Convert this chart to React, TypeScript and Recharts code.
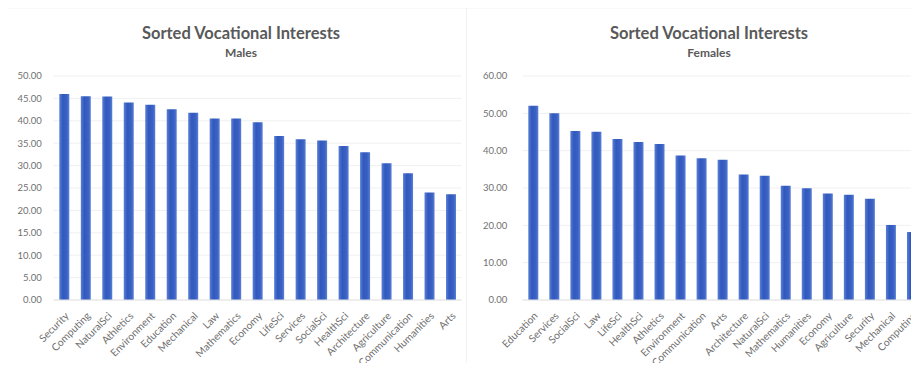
import React from "react";
import { BarChart, Bar, XAxis, YAxis, CartesianGrid } from "recharts";

const maleCategories = ["Security", "Computing", "NaturalSci", "Athletics", "Environment", "Education", "Mechanical", "Law", "Mathematics", "Economy", "LifeSci", "Services", "SocialSci", "HealthSci", "Architecture", "Agriculture", "Communication", "Humanities", "Arts"];
const maleValues = [46.0, 45.5, 45.4, 44.1, 43.6, 42.6, 41.8, 40.5, 40.5, 39.7, 36.6, 35.9, 35.6, 34.4, 33.0, 30.5, 28.3, 24.0, 23.6];
const maleTicks = [0, 5, 10, 15, 20, 25, 30, 35, 40, 45, 50];

const femaleCategories = ["Education", "Services", "SocialSci", "Law", "LifeSci", "HealthSci", "Athletics", "Environment", "Communication", "Arts", "Architecture", "NaturalSci", "Mathematics", "Humanities", "Economy", "Agriculture", "Security", "Mechanical", "Computing"];
const femaleValues = [52.0, 50.0, 45.3, 45.1, 43.1, 42.3, 41.8, 38.7, 38.0, 37.6, 33.6, 33.3, 30.6, 29.9, 28.5, 28.2, 27.1, 20.1, 18.2];
const femaleTicks = [0, 10, 20, 30, 40, 50, 60];

const mainTitle = "Sorted Vocational Interests";
const maleSubtitle = "Males";
const femaleSubtitle = "Females";

const maleData = maleCategories.map((c, i) => ({ name: c, value: maleValues[i] }));
const femaleData = femaleCategories.map((c, i) => ({ name: c, value: femaleValues[i] }));

const FONT = "Lato, 'Open Sans', sans-serif";
const TEXT = "#707070";

const XTick = (props: any) => {
  const { x, y, payload } = props;
  return (
    <g transform={`translate(${x + 3},${y + 6})`}>
      <text
        transform="rotate(-45)"
        textAnchor="end"
        dy="0.35em"
        fontSize={10.3}
        fontFamily={FONT}
        fill={TEXT}
      >
        {payload.value}
      </text>
    </g>
  );
};

const Grad = ({ id }: { id: string }) => (
  <defs>
    <linearGradient id={id} x1="0" y1="0" x2="1" y2="0">
      <stop offset="0%" stopColor="#5a80d6" />
      <stop offset="35%" stopColor="#3158bd" />
      <stop offset="75%" stopColor="#3a61c3" />
      <stop offset="100%" stopColor="#5a80d6" />
    </linearGradient>
  </defs>
);

const Panel = ({ left, width, rightMargin, data, ticks, max, sub, gid, yTickMargin, yWidth, titleCenter }: any) => (
  <div style={{ position: "absolute", left, top: 0, width, height: 371 }}>
    <div
      style={{
        position: "absolute",
        left: titleCenter - 235,
        width: 470,
        top: 23,
        lineHeight: "20px",
        textAlign: "center",
        fontFamily: FONT,
        fontWeight: 700,
        fontSize: 16.5,
        color: "#595959",
      }}
    >
      {mainTitle}
    </div>
    <div
      style={{
        position: "absolute",
        left: titleCenter - 235,
        width: 470,
        top: 45,
        lineHeight: "16px",
        textAlign: "center",
        fontFamily: FONT,
        fontWeight: 700,
        fontSize: 12,
        color: "#595959",
      }}
    >
      {sub}
    </div>
    <BarChart
      width={width}
      height={371}
      data={data}
      margin={{ top: 76, right: rightMargin, left: 0, bottom: 11 }}
      barCategoryGap={0}
    >
      <Grad id={gid} />
      <CartesianGrid vertical={false} stroke="#f0f0f0" />
      <XAxis
        dataKey="name"
        interval={0}
        height={60}
        tick={<XTick />}
        tickLine={false}
        axisLine={{ stroke: "#e4e4e4" }}
      />
      <YAxis
        width={yWidth}
        domain={[0, max]}
        ticks={ticks}
        tickFormatter={(v: number) => v.toFixed(2)}
        tick={{ fontSize: 9.5, fill: TEXT, fontFamily: FONT }}
        tickSize={0}
        tickMargin={yTickMargin}
        axisLine={false}
        tickLine={false}
        interval={0}
      />
      <Bar dataKey="value" fill={`url(#${gid})`} barSize={10} isAnimationActive={false} />
    </BarChart>
  </div>
);

export default function App() {
  return (
    <div
      style={{
        margin: -8,
        width: 919,
        height: 371,
        position: "relative",
        overflow: "hidden",
        background: "#ffffff",
      }}
    >
      <div
        style={{
          position: "absolute",
          left: 0,
          right: 0,
          top: 6,
          height: 3,
          background: "linear-gradient(#f2f2f2, #fafafa)",
        }}
      />
      <div
        style={{
          position: "absolute",
          left: 466,
          top: 8,
          width: 1,
          height: 363,
          background: "#f1f1f1",
        }}
      />
      <Panel
        left={0}
        width={470}
        rightMargin={8.5}
        data={maleData}
        ticks={maleTicks}
        max={50}
        sub={maleSubtitle}
        gid="gm"
        yWidth={53.3}
        yTickMargin={11.5}
        titleCenter={241}
      />
      <Panel
        left={469}
        width={462}
        rightMargin={9}
        data={femaleData}
        ticks={femaleTicks}
        max={60}
        sub={femaleSubtitle}
        gid="gf"
        yWidth={53.3}
        yTickMargin={15}
        titleCenter={240}
      />
    </div>
  );
}
